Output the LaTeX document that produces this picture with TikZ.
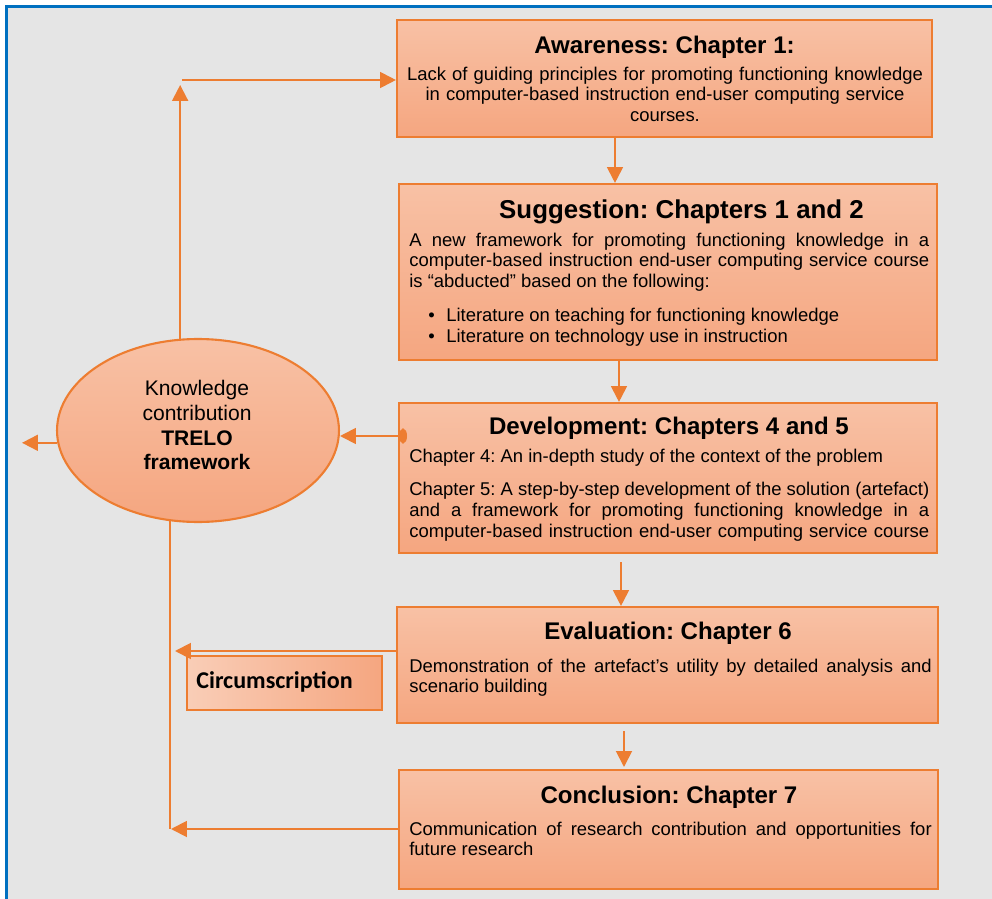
\documentclass[tikz,border=0pt]{standalone}
\usepackage{fontspec}
\setmainfont{Liberation Sans}
\newfontfamily\calibrifont{Carlito}
\usetikzlibrary{arrows.meta,fit,shapes.geometric}

\definecolor{dsrorange}{RGB}{237,125,49}
\definecolor{boxtop}{RGB}{248,193,165}
\definecolor{boxbot}{RGB}{245,166,128}
\definecolor{panelgray}{RGB}{229,229,229}
\definecolor{frameblue}{RGB}{0,112,192}

% full-width justified line
\newcommand{\jl}[1]{\makebox[10.4cm][s]{#1}}
\newcommand{\jlw}[1]{\makebox[10.45cm][s]{#1}}

\begin{document}
\frenchspacing
\begin{tikzpicture}[x=0.02cm,y=-0.02cm,
  stage/.style={draw=dsrorange, line width=1.2pt, top color=boxtop, bottom color=boxbot, inner sep=0pt},
  circbox/.style={draw=dsrorange, line width=1.2pt, left color=boxtop!80!white, right color=boxbot, inner sep=0pt},
  heading/.style={font=\fontsize{13.7}{16}\selectfont\bfseries\frenchspacing, anchor=base, inner sep=0pt},
  body/.style={font=\fontsize{10.5}{11.9}\selectfont\frenchspacing, anchor=base west, inner sep=0pt, text width=10.4cm, align=justify},
  flow/.style={draw=dsrorange, line width=1.1pt},
  arr/.style={flow, -{Triangle[length=9pt,width=9pt]}},
]
\useasboundingbox (0,0) rectangle (992,899);
\clip (0,0) rectangle (992,899);
\fill[white] (0,0) rectangle (992,899);
\draw[frameblue, line width=1.5pt, fill=panelgray] (6.7,6.7) rectangle (1010,920);

% stage boxes
\node[stage, fit={(397,20)(932,137)}] (A) {};
\node[stage, fit={(399,184)(937,360)}] (S) {};
\node[stage, fit={(399,403)(937,553)}] (D) {};
\node[stage, fit={(397,607)(938,723)}] (E) {};
\node[stage, fit={(399,770)(938,889)}] (C) {};

% awareness
\node[heading] (At) at (664.5,53) {Awareness: Chapter 1:};
\node[body, anchor=base, align=center] (Ab) at (665,80)
  {Lack of guiding principles for promoting functioning knowledge\\
   in computer-based instruction end-user computing service\\
   courses.};

% suggestion
\node[heading, font=\fontsize{14.7}{17}\selectfont\bfseries] (St) at (681.5,218) {Suggestion: Chapters 1 and 2};
\node[body] (Sb) at (409,246)
  {\jl{A new framework for promoting functioning knowledge in a}\\
   \jl{computer-based instruction end-user computing service course}\\
   is “abducted” based on the following:\\[7.4pt]
   \hspace*{0.38cm}\makebox[0.36cm][l]{\textbullet}Literature on teaching for functioning knowledge\\
   \hspace*{0.38cm}\makebox[0.36cm][l]{\textbullet}Literature on technology use in instruction};

% development
\node[heading] (Dt) at (669,434) {Development: Chapters 4 and 5};
\node[body] (Db) at (409,462)
  {Chapter 4: An in-depth study of the context of the problem\\[7.4pt]
   \jl{Chapter 5: A step-by-step development of the solution (artefact)}\\
   \jl{and a framework for promoting functioning knowledge in a}\\
   \jl{computer-based instruction end-user computing service course}};

% evaluation
\node[heading] (Et) at (668,639) {Evaluation: Chapter 6};
\node[body] (Eb) at (409,672)
  {\jlw{Demonstration of the artefact’s utility by detailed analysis and}\\
   scenario building};

% conclusion
\node[heading] (Ct) at (669,803) {Conclusion: Chapter 7};
\node[body] (Cb) at (409,835)
  {\jlw{Communication of research contribution and opportunities for}\\
   future research};

% knowledge contribution
\node[ellipse, draw=dsrorange, line width=1.2pt, top color=boxtop, bottom color=boxbot,
      minimum width=5.64cm, minimum height=3.66cm, inner sep=0pt] (K) at (198,430.5) {};
\node[font=\fontsize{12}{14.2}\selectfont, align=center, inner sep=0pt] (Kt) at (197,425)
  {Knowledge\\contribution\\\textbf{TRELO}\\\textbf{framework}};

% circumscription
\node[circbox, fit={(187,656)(382,710)}] (Ci) {};
\node[font=\calibrifont\bfseries\fontsize{13.7}{16}\selectfont, anchor=base west, inner sep=0pt]
  (Cit) at (196,688) {Circumscription};

% reference levels for connectors
\coordinate (upTip) at (180,85);
\coordinate (topRow) at (182,80);
\coordinate (xAS) at (615,0);
\coordinate (xSD) at (619,0);
\coordinate (deStart) at (621,562);
\coordinate (ecStart) at (624,731);
\coordinate (ecTip) at (624,767);
\coordinate (devStart) at (407,436);
\coordinate (outTip) at (22,442);
\coordinate (circTip) at (175,651);
\coordinate (corner) at (171,829);

% main flow
\draw[arr] (A.south -| xAS) -- (S.north -| xAS);
\draw[arr] (S.south -| xSD) -- (D.north -| xSD);
\draw[arr] (deStart) -- (E.north -| deStart);
\draw[arr] (ecStart) -- (ecTip);

% feedback loops
\draw[flow, {Ellipse[length=4.5pt,width=8.5pt]}-{Triangle[length=9pt,width=9pt]}]
  (devStart) -- (devStart -| K.east);
\draw[arr] (K.185) -- (K.185 -| outTip);
\draw[arr] (K.101) -- (K.101 |- upTip);
\draw[arr] (topRow) -- (A.west |- topRow);
\draw[arr] (E.west |- circTip) -- (circTip);
\draw[flow] (K.253) -- (K.253 |- corner);
\draw[arr] (C.west |- corner) -- (corner);
\end{tikzpicture}
\end{document}
